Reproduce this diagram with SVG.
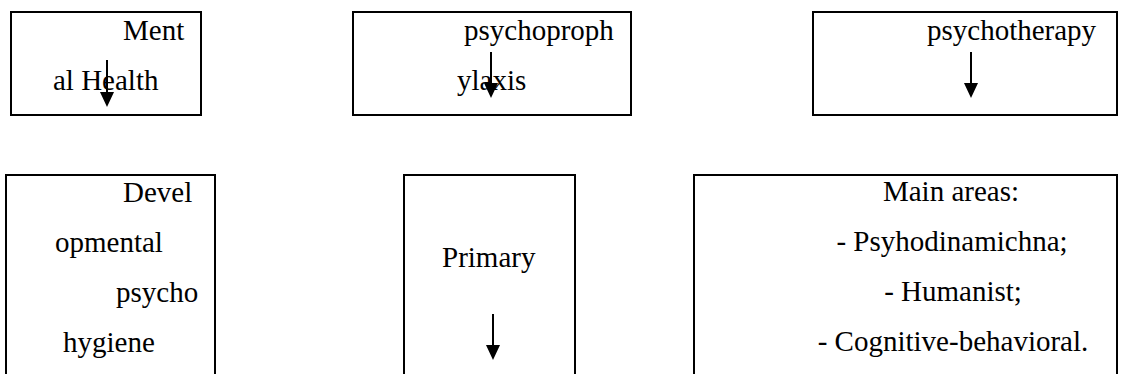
<svg xmlns="http://www.w3.org/2000/svg" width="1122" height="374" viewBox="0 0 1122 374">
<style>
.box{fill:#fff;stroke:#000;stroke-width:2}
.t{font-family:"Liberation Serif","Times New Roman",serif;font-size:29px;fill:#000}
.sh{stroke:#000;stroke-width:2;fill:none}
.hd{fill:#000}
</style>
<rect width="1122" height="374" fill="#fff"/>
<g id="node-mental-health">
<rect class="box" x="11" y="12" width="190" height="103"/>
<text class="t" x="123" y="40">Ment</text>
<text class="t" x="53" y="90">al Health</text>
</g>
<g id="node-psychoprophylaxis">
<rect class="box" x="353" y="12" width="278" height="103"/>
<text class="t" x="464" y="40">psychoproph</text>
<text class="t" x="457" y="90">ylaxis</text>
</g>
<g id="node-psychotherapy">
<rect class="box" x="813" y="12" width="304" height="103"/>
<text class="t" x="927" y="40">psychotherapy</text>
</g>
<g id="node-developmental">
<rect class="box" x="6" y="175" width="209" height="210"/>
<text class="t" x="123" y="202">Devel</text>
<text class="t" x="55" y="252">opmental</text>
<text class="t" x="116" y="302">psycho</text>
<text class="t" x="63" y="352">hygiene</text>
</g>
<g id="node-primary">
<rect class="box" x="404" y="175" width="171" height="210"/>
<text class="t" x="442" y="267">Primary</text>
</g>
<g id="node-main-areas">
<rect class="box" x="694" y="175" width="423" height="210"/>
<text class="t" x="951" y="201" text-anchor="middle">Main areas:</text>
<text class="t" x="952" y="251" text-anchor="middle">- Psyhodinamichna;</text>
<text class="t" x="953" y="301" text-anchor="middle">- Humanist;</text>
<text class="t" x="953" y="351" text-anchor="middle">- Cognitive-behavioral.</text>
</g>
<g id="connectors">
<line class="sh" x1="107" y1="60" x2="107" y2="94"/>
<polygon class="hd" points="100,92 114,92 107,107"/>
<line class="sh" x1="491" y1="52" x2="491" y2="85"/>
<polygon class="hd" points="484,83 498,83 491,98"/>
<line class="sh" x1="971" y1="52" x2="971" y2="85"/>
<polygon class="hd" points="964,83 978,83 971,98"/>
<line class="sh" x1="493" y1="314" x2="493" y2="347"/>
<polygon class="hd" points="486,345 500,345 493,360"/>
</g>
</svg>
